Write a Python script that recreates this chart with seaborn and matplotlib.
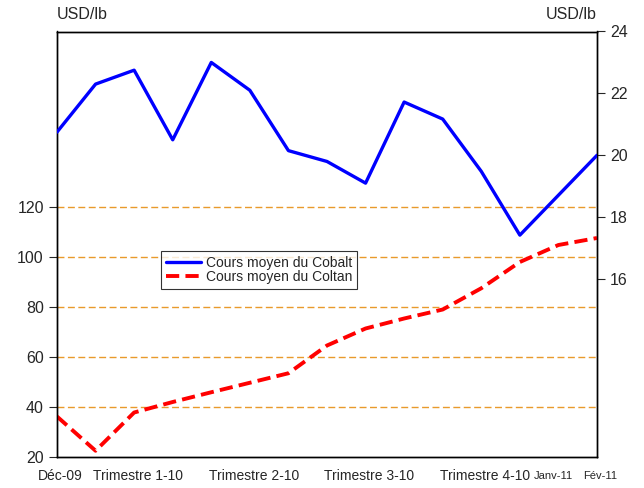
import matplotlib
matplotlib.use("Agg")
import matplotlib.pyplot as plt
import seaborn as sns
import numpy as np
import pandas as pd

sns.set_style("white")
plt.rcParams['font.family'] = ['Liberation Sans', 'DejaVu Sans']

periods = list(range(15))
cobalt = [20.75, 22.3, 22.75, 20.5, 23.0, 22.1, 20.15, 19.8, 19.1, 21.72, 21.17,
          19.48, 17.42, 18.71, 20.0]
coltan = [36.2, 22.5, 37.8, 42.0, 45.9, 49.7, 53.5, 64.6, 71.4, 75.4, 79.0,
          87.5, 98.0, 104.8, 107.6]
tick_pos = [0, 2, 5, 8, 11, 13, 14]
tick_labels = ["Déc-09", "Trimestre 1-10", "Trimestre 2-10", "Trimestre 3-10",
               "Trimestre 4-10", "Janv-11", "Fév-11"]
left_ticks = [20, 40, 60, 80, 100, 120]
right_ticks = [16, 18, 20, 22, 24]

df = pd.DataFrame({"t": periods, "cobalt": cobalt, "coltan": coltan})

fig = plt.figure(figsize=(6.44, 4.88), dpi=100)
ax = fig.add_axes([57/644, 31/488, 540/644, 425.5/488])
ax2 = ax.twinx()

ax.set_xlim(0, 14)
ax.set_ylim(20, 190.2)
ax2.set_ylim(10.25, 24)

for v in left_ticks[1:]:
    ax.axhline(v, color='#E99A2C', lw=1.0, ls=(0, (5, 2.5)), zorder=1)

sns.lineplot(data=df, x="t", y="coltan", ax=ax, color='#FF0000', lw=2.8,
             label="Cours moyen du Coltan", legend=False, zorder=3)
ax.lines[-1].set_linestyle((0, (3.4, 1.6)))
sns.lineplot(data=df, x="t", y="cobalt", ax=ax2, color='#0000FF', lw=2.4,
             label="Cours moyen du Cobalt", legend=False, zorder=3)

ax.set_yticks(left_ticks)
ax.set_yticklabels([str(v) for v in left_ticks], fontsize=11.5)
ax2.set_yticks(right_ticks)
ax2.set_yticklabels([str(v) for v in right_ticks], fontsize=11.5)

# x labels: drawn at the category positions, with small horizontal offsets
ax.set_xticks(tick_pos)
ax.set_xticklabels([])
label_shift = [2.5, 3, 3, 2.5, 2.5, -3.5, 2]
label_size = [10, 10, 10, 10, 10, 8, 8]
for pos, txt, dx, fs in zip(tick_pos, tick_labels, label_shift, label_size):
    ax.annotate(txt, xy=(pos, 0), xycoords=('data', 'axes fraction'),
                xytext=(dx, -13.6), textcoords='offset points',
                ha='center', va='center', fontsize=fs, annotation_clip=False)

ax.set_xlabel("")
ax.set_ylabel("")
ax2.set_ylabel("")

ax.tick_params(axis='y', direction='out', length=5.5, width=0.8, left=True, pad=4)
ax2.tick_params(axis='y', direction='out', length=5.5, width=0.8, right=True, pad=4)
ax.tick_params(axis='x', length=0)

for a in (ax, ax2):
    for s in a.spines.values():
        s.set_color('black')
        s.set_linewidth(1.0)

ax.text(0.0, 1.022, "USD/lb", transform=ax.transAxes, fontsize=11.5,
        ha='left', va='bottom')
ax.text(1.0, 1.022, "USD/lb", transform=ax.transAxes, fontsize=11.5,
        ha='right', va='bottom')

handles = [ax2.lines[-1], ax.lines[-1]]
labels = ["Cours moyen du Cobalt", "Cours moyen du Coltan"]
leg = ax.legend(handles, labels, loc='upper left', bbox_to_anchor=(0.193, 0.483),
                frameon=True, fancybox=False, fontsize=10, handlelength=2.5,
                borderpad=0.35, labelspacing=0.0, handletextpad=0.35,
                borderaxespad=0)
leg.get_frame().set_edgecolor('black')
leg.get_frame().set_linewidth(0.8)
leg.set_zorder(5)

fig.savefig("out.png", dpi=100)
